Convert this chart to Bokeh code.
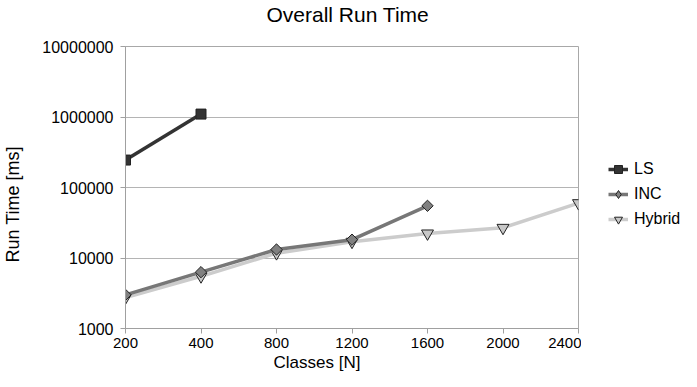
import math
from bokeh.plotting import figure
from bokeh.layouts import row
from bokeh.models import (Range1d, FixedTicker, NumeralTickFormatter, Title, Legend, LegendItem)
from bokeh.embed import file_html
from bokeh.resources import INLINE

# ---- data ----
classes = ["200", "400", "800", "1200", "1600", "2000", "2400"]
ls_time = [245000, 1100000]
inc_time = [3000, 6300, 13200, 18200, 55000]
hybrid_time = [2750, 5500, 11700, 17000, 22300, 26800, 60000]
y_ticks = [1000, 10000, 100000, 1000000, 10000000]
series_names = ["LS", "INC", "Hybrid"]

FONT = "Liberation Sans"
W, H = 681, 371
FL, FT, FW, FH = 122, 45, 456, 283
W1 = FL + FW + 3
W2 = W - W1

p = figure(width=W1, height=H, output_backend="svg", toolbar_location=None,
           y_axis_type="log", x_range=Range1d(0, len(classes) - 1),
           y_range=Range1d(1000, 10000000),
           min_border_left=FL, min_border_right=3, min_border_top=FT,
           min_border_bottom=H - FT - FH)
p.background_fill_color = "white"
p.border_fill_color = "white"
p.outline_line_color = "#a8a8a8"
p.outline_line_width = 1

x_idx = list(range(len(classes)))

# axes
p.xaxis.ticker = FixedTicker(ticks=x_idx)
p.xaxis.major_label_overrides = {i: c for i, c in enumerate(classes)}
p.yaxis.ticker = FixedTicker(ticks=y_ticks)
p.yaxis.formatter = NumeralTickFormatter(format="0")
for ax in (p.xaxis[0], p.yaxis[0]):
    ax.axis_line_color = "#a0a0a0"
    ax.major_tick_line_color = "#a0a0a0"
    ax.major_tick_in = 0
    ax.major_tick_out = 5
    ax.minor_tick_line_color = None
    ax.major_label_text_font = FONT
    ax.major_label_text_font_size = "16px"
    ax.major_label_text_color = "black"
p.xaxis.major_label_text_font_size = "15px"
p.xaxis.major_label_standoff = 4
p.yaxis.major_label_standoff = 7

p.xgrid.grid_line_color = None
p.ygrid.grid_line_color = "#b4b4b4"
p.ygrid.ticker = FixedTicker(ticks=y_ticks)
p.ygrid.minor_grid_line_color = None

# series: (name, values, line colour, marker, fill, size, angle, legend marker, legend size)
series = [
    ("Hybrid", hybrid_time, "#cccccc", "inverted_triangle", "#c8c8c8", 12, 0.0, "inverted_triangle", 11),
    ("INC", inc_time, "#777777", "square", "#808080", 8, math.pi / 4, "diamond", 12),
    ("LS", ls_time, "#333333", "square", "#333333", 10, 0.0, "square", 9),
]
for name, ys, lc, mk, fc, sz, ang, lmk, lsz in series:
    xs = x_idx[:len(ys)]
    p.line(xs, ys, line_color=lc, line_width=3.5)
    p.scatter(xs, ys, marker=mk, size=sz, angle=ang, fill_color=fc,
              line_color="#222222", line_width=1)

# title and axis labels
p.title = Title(text="Overall Run Time", text_font=FONT, text_font_size="21px",
                text_font_style="normal", text_color="black", align="left",
                offset=141, standoff=0)
p.add_layout(Title(text=" ", text_font_size="1px", standoff=18), "above")
p.add_layout(Title(text="Classes [N]", text_font=FONT, text_font_size="17px",
                   text_font_style="normal", text_color="black", align="left",
                   offset=148, standoff=0), "below")
p.add_layout(Title(text=" ", text_font_size="1px", standoff=14), "left")
p.add_layout(Title(text="Run Time [ms]", text_font=FONT, text_font_size="18px",
                   text_font_style="normal", text_color="black", align="left",
                   offset=66, standoff=0), "left")

# legend panel (glyphs kept outside its visible range; only the legend shows)
q = figure(width=W2, height=H, output_backend="svg", toolbar_location=None,
           x_range=Range1d(100, 101), y_range=Range1d(100, 101),
           x_axis_location=None, y_axis_location=None,
           min_border_left=0, min_border_right=0, min_border_top=0, min_border_bottom=0)
q.outline_line_color = None
q.xgrid.grid_line_color = None
q.ygrid.grid_line_color = None
q.background_fill_color = "white"
q.border_fill_color = "white"
leg_map = {}
for name, ys, lc, mk, fc, sz, ang, lmk, lsz in series:
    xs = x_idx[:len(ys)]
    l = q.line(xs, ys, line_color=lc, line_width=3.5)
    s = q.scatter(xs, ys, marker=lmk, size=lsz, fill_color=fc,
                  line_color="#222222", line_width=1)
    leg_map[name] = [l, s]
legend = Legend(items=[LegendItem(label=n, renderers=leg_map[n]) for n in series_names],
                location=(27, 99), padding=0, margin=0, spacing=5,
                glyph_width=20, glyph_height=20, label_height=20, label_standoff=6,
                label_text_font=FONT, label_text_font_size="16px", label_text_color="black",
                border_line_color=None, background_fill_alpha=0)
q.add_layout(legend, "center")

layout = row(p, q, spacing=0)
open("out.html", "w").write(file_html(layout, INLINE))
